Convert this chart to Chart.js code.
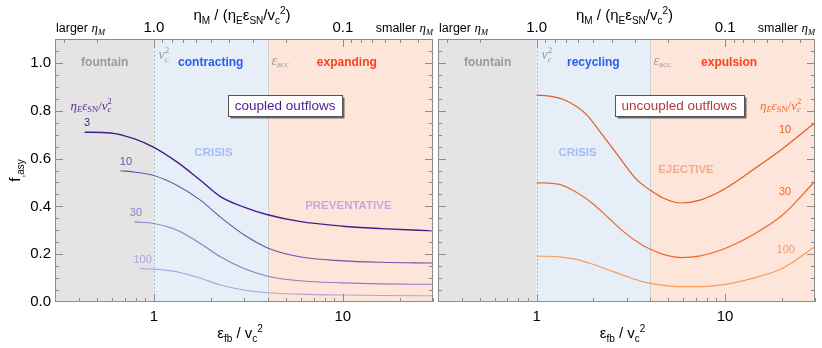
<!DOCTYPE html>
<html>
<head>
<meta charset="utf-8">
<script src="https://cdn.jsdelivr.net/npm/chart.js@4.4.0/dist/chart.umd.min.js"></script>
<style>
  html, body { margin: 0; padding: 0; background: #fff; }
  #wrap { position: relative; width: 822px; height: 348px; }
  .pane { position: absolute; top: 0; height: 348px; }
</style>
</head>
<body>
<div id="wrap">
  <div class="pane" style="left:0;width:436px"><canvas id="coupled" width="436" height="348"></canvas></div>
  <div class="pane" style="left:436px;width:386px"><canvas id="uncoupled" width="386" height="348"></canvas></div>
</div>
<script>
/* ---------- datos ---------- */
const xRange = [0.3, 30];
const yRange = [0, 1.1];
const zoneEdges = [0.3, 1, 4, 30];            // fountain | crisis | ε_acc ...
const xTickLabels = [1, 10];
const xMinorTicks = [0.3, 0.4, 0.5, 0.6, 0.7, 0.8, 0.9, 2, 3, 4, 5, 6, 7, 8, 9, 20, 30];
const yTickLabels = [0, 0.2, 0.4, 0.6, 0.8, 1.0];
const yMinorTicks = [0.05, 0.1, 0.15, 0.25, 0.3, 0.35, 0.45, 0.5, 0.55, 0.65, 0.7, 0.75, 0.85, 0.9, 0.95, 1.05];
// eje superior: η_M / (η_E ε_SN / v_c²) = 1 / x
const topTickLabels = [1.0, 0.1];
const topMinorTicks = [3, 2, 0.9, 0.8, 0.7, 0.6, 0.5, 0.4, 0.3, 0.2, 0.09, 0.08, 0.07, 0.06, 0.05, 0.04];

// coupled outflows (panel izquierdo)
const coupledNames = ['3', '10', '30', '100'];
const coupled3X   = [0.43, 0.59, 0.79, 1.0, 1.33, 1.77, 2.25, 3.0, 4.0, 5.9, 10, 16, 25, 30];
const coupled3Y   = [0.71, 0.707, 0.682, 0.647, 0.585, 0.508, 0.441, 0.397, 0.365, 0.337, 0.317, 0.307, 0.30, 0.298];
const coupled10X  = [0.665, 0.8, 1.0, 1.33, 1.77, 2.25, 3.0, 4.0, 5.9, 10, 16, 30];
const coupled10Y  = [0.549, 0.543, 0.529, 0.4875, 0.425, 0.355, 0.281, 0.226, 0.189, 0.172, 0.166, 0.163];
const coupled30X  = [0.79, 1.0, 1.33, 1.77, 2.25, 3.0, 4.0, 5.9, 10, 16, 30];
const coupled30Y  = [0.335, 0.328, 0.30, 0.244, 0.189, 0.14, 0.108, 0.089, 0.08, 0.076, 0.074];
const coupled100X = [0.84, 1.0, 1.33, 1.77, 2.25, 3.0, 4.0, 5.9, 10, 16, 30];
const coupled100Y = [0.14, 0.1375, 0.126, 0.099, 0.071, 0.05, 0.039, 0.033, 0.029, 0.027, 0.026];

// uncoupled outflows (panel derecho)
const uncoupledNames = ['10', '30', '100'];
const uncoupled10X  = [1.0, 1.2, 1.44, 1.83, 2.23, 2.75, 3.37, 4.0, 4.66, 5.83, 7.28, 10, 13.9, 20.1, 30];
const uncoupled10Y  = [0.865, 0.86, 0.842, 0.786, 0.70, 0.605, 0.515, 0.468, 0.436, 0.414, 0.425, 0.474, 0.55, 0.64, 0.75];
const uncoupled30X  = [1.0, 1.32, 1.62, 1.99, 2.43, 2.98, 3.65, 4.0, 4.66, 5.83, 7.28, 10, 13.9, 20.1, 30];
const uncoupled30Y  = [0.499, 0.492, 0.46, 0.411, 0.349, 0.286, 0.2375, 0.222, 0.20, 0.186, 0.192, 0.224, 0.279, 0.3625, 0.505];
const uncoupled100X = [1.0, 1.32, 1.62, 1.99, 2.43, 2.98, 3.65, 4.0, 4.66, 5.83, 7.28, 10, 13.9, 20.1, 30];
const uncoupled100Y = [0.192, 0.189, 0.178, 0.158, 0.133, 0.108, 0.085, 0.078, 0.07, 0.064, 0.064, 0.074, 0.099, 0.14, 0.232];

/* ---------- texto enriquecido (sub/superíndices) ---------- */
const SANS = '"Liberation Sans", Arial, Helvetica, sans-serif';
const SERIF = '"Liberation Serif", "DejaVu Serif", serif';

function fontOf(s) {
  return (s.i ? 'italic ' : '') + (s.b ? 'bold ' : '') + s.size + 'px ' + (s.serif ? SERIF : SANS);
}
// t: texto, size, opciones {i, b, serif, dy, stack}
function S(t, size, o = {}) { return Object.assign({ t, size }, o); }

function rich(ctx, segs, x, y, align, color) {
  let total = 0, lastW = 0;
  segs.forEach(s => {
    ctx.font = fontOf(s);
    s.w = ctx.measureText(s.t).width;
    if (s.stack) { total += Math.max(0, s.w - lastW); } else { total += s.w; }
    lastW = s.w;
  });
  let cx = align === 'center' ? x - total / 2 : align === 'right' ? x - total : x;
  let prevX = cx;
  ctx.fillStyle = color;
  ctx.textAlign = 'left';
  ctx.textBaseline = 'alphabetic';
  segs.forEach(s => {
    ctx.font = fontOf(s);
    let sx = s.stack ? prevX : cx;
    ctx.fillText(s.t, sx, y + (s.dy || 0));
    if (s.stack) { cx = Math.max(cx, sx + s.w); } else { cx = sx + s.w; }
    prevX = sx;
  });
}

function plainText(ctx, t, x, y, font, color, align = 'center') {
  ctx.font = font;
  ctx.fillStyle = color;
  ctx.textAlign = align;
  ctx.textBaseline = 'middle';
  ctx.fillText(t, x, y);
}

function box(ctx, t, cx, cy, w, h, color) {
  const x = Math.round(cx - w / 2) + 0.5, y = Math.round(cy - h / 2) + 0.5;
  ctx.fillStyle = 'rgba(60,60,60,0.75)';
  ctx.fillRect(x + 2, y + 2, w, h);
  ctx.fillStyle = '#fff';
  ctx.fillRect(x, y, w, h);
  ctx.strokeStyle = '#555';
  ctx.lineWidth = 1;
  ctx.strokeRect(x, y, w, h);
  plainText(ctx, t, cx, cy + 0.5, '13.5px ' + SANS, color);
}

function pts(xs, ys) { return xs.map((x, i) => ({ x, y: ys[i] })); }

/* ---------- plugin de decoración ---------- */
function decorPlugin(panel) {
  return {
    id: 'decor',
    beforeDatasetsDraw(chart) {
      const { ctx, chartArea: a, scales: { x, y } } = chart;
      const fills = ['#e4e4e4', '#e6eef8', '#fde5da'];
      ctx.save();
      for (let i = 0; i < 3; i++) {
        const x0 = x.getPixelForValue(zoneEdges[i]);
        const x1 = x.getPixelForValue(zoneEdges[i + 1]);
        ctx.fillStyle = fills[i];
        ctx.fillRect(x0, a.top, x1 - x0, a.bottom - a.top);
      }
      // v_c² : línea punteada
      const p1 = Math.round(x.getPixelForValue(zoneEdges[1])) + 0.5;
      ctx.strokeStyle = '#a8a8a8';
      ctx.lineWidth = 1;
      ctx.setLineDash([1.5, 2.5]);
      ctx.beginPath(); ctx.moveTo(p1, a.top); ctx.lineTo(p1, a.bottom); ctx.stroke();
      ctx.setLineDash([]);
      // ε_acc : línea continua
      const p2 = Math.round(x.getPixelForValue(zoneEdges[2])) + 0.5;
      ctx.strokeStyle = '#cfcfcf';
      ctx.beginPath(); ctx.moveTo(p2, a.top); ctx.lineTo(p2, a.bottom); ctx.stroke();

      // etiquetas de regiones
      const yl = y.getPixelForValue(1.0);
      plainText(ctx, 'fountain', x.getPixelForValue(0.55), yl, 'bold 12px ' + SANS, '#9a9a9a');
      plainText(ctx, panel.midLabel, x.getPixelForValue(2.0), yl, 'bold 12px ' + SANS, '#2a5cf0');
      plainText(ctx, panel.rightLabel, x.getPixelForValue(10.5), yl, 'bold 12px ' + SANS, '#ff401c');
      rich(ctx, [S('v', 14, { i: true, serif: true }), S('c', 9, { i: true, serif: true, dy: 3 }),
                 S('2', 9, { serif: true, dy: -6, stack: true })],
           p1 + 4, y.getPixelForValue(1.015), 'left', '#9a9a9a');
      rich(ctx, [S('ε', 14, { i: true, serif: true }), S('acc', 9, { serif: true, dy: 2 })],
           p2 + 3, y.getPixelForValue(1.0) + 2, 'left', '#9a9a9a');
      ctx.restore();
    },
    afterDatasetsDraw(chart) {
      const { ctx, chartArea: a, scales: { x, y } } = chart;
      ctx.save();
      // marco
      ctx.strokeStyle = '#8c8c8c';
      ctx.lineWidth = 1;
      ctx.strokeRect(Math.round(a.left) + 0.5, Math.round(a.top) + 0.5,
                     Math.round(a.right - a.left) - 1, Math.round(a.bottom - a.top) - 1);
      const vline = (px, y0, y1) => { px = Math.round(px) + 0.5; ctx.beginPath(); ctx.moveTo(px, y0); ctx.lineTo(px, y1); ctx.stroke(); };
      const hline = (py, x0, x1) => { py = Math.round(py) + 0.5; ctx.beginPath(); ctx.moveTo(x0, py); ctx.lineTo(x1, py); ctx.stroke(); };
      // ticks inferiores
      xTickLabels.forEach(v => vline(x.getPixelForValue(v), a.bottom, a.bottom - 8));
      xMinorTicks.forEach(v => vline(x.getPixelForValue(v), a.bottom, a.bottom - 4));
      // ticks superiores (recíprocos)
      topTickLabels.forEach(v => vline(x.getPixelForValue(1 / v), a.top, a.top + 8));
      topMinorTicks.forEach(v => {
        const px = x.getPixelForValue(1 / v);
        if (px > a.left + 1 && px < a.right - 1) vline(px, a.top, a.top + 4);
      });
      // ticks y, ambos lados
      yTickLabels.forEach(v => {
        const py = y.getPixelForValue(v);
        if (py < a.bottom - 1) { hline(py, a.left, a.left + 8); hline(py, a.right, a.right - 8); }
      });
      yMinorTicks.forEach(v => {
        const py = y.getPixelForValue(v);
        hline(py, a.left, a.left + 4); hline(py, a.right, a.right - 4);
      });

      // textos de anotación
      const P = (vx, vy) => [x.getPixelForValue(vx), y.getPixelForValue(vy)];
      let p;
      p = P(panel.crisisAt[0], panel.crisisAt[1]);
      plainText(ctx, 'CRISIS', p[0], p[1], 'bold 11.5px ' + SANS, '#a9bbf3');
      p = P(panel.tagAt[0], panel.tagAt[1]);
      plainText(ctx, panel.tag, p[0], p[1], 'bold 11.5px ' + SANS, panel.tagColor);

      p = P(panel.boxAt[0], panel.boxAt[1]);
      box(ctx, panel.boxText, p[0], p[1], panel.boxW, 21, panel.boxColor);

      // cabecera de curvas
      p = P(panel.headAt[0], panel.headAt[1]);
      rich(ctx, [S('η', 13, { i: true, serif: true }), S('E', 8.5, { i: true, serif: true, dy: 2.5 }),
                 S('ε', 13, { i: true, serif: true }), S('SN', 8.5, { serif: true, dy: 2.5 }),
                 S('/', 13, { serif: true }), S('v', 13, { i: true, serif: true }),
                 S('c', 8.5, { i: true, serif: true, dy: 2.5 }), S('2', 8.5, { serif: true, dy: -6, stack: true })],
           p[0], p[1] + 4, 'center', panel.headColor);
      panel.curveLabels.forEach((lab, i) => {
        const q = P(lab[0], lab[1]);
        plainText(ctx, panel.names[i], q[0], q[1], '11px ' + SANS, panel.colors[i]);
      });

      // eje superior
      topTickLabels.forEach(v => {
        plainText(ctx, v.toFixed(1), x.getPixelForValue(1 / v), 28, '15px ' + SANS, '#000');
      });
      rich(ctx, [S('larger ', 12.5), S('η', 13, { i: true, serif: true }), S('M', 8.5, { i: true, serif: true, dy: 3 })],
           a.left + 1, 32, 'left', '#000');
      rich(ctx, [S('smaller ', 12.5), S('η', 13, { i: true, serif: true }), S('M', 8.5, { i: true, serif: true, dy: 3 })],
           a.right, 32, 'right', '#000');
      const cxp = (a.left + a.right) / 2 - 2;
      rich(ctx, [S('η', 15), S('M', 10, { dy: 4 }), S(' / (η', 15), S('E', 10, { dy: 4 }),
                 S('ε', 15), S('SN', 10, { dy: 4 }), S('/v', 15), S('c', 10, { dy: 4 }),
                 S('2', 10, { dy: -6 }), S(')', 15)],
           cxp, 20, 'center', '#000');
      // título eje x
      rich(ctx, [S('ε', 15), S('fb', 10, { dy: 4 }), S(' / v', 15), S('c', 10, { dy: 4 }),
                 S('2', 10, { dy: -6 })],
           cxp - 2, 338, 'center', '#000');
      // título eje y
      if (panel.yTitle) {
        ctx.translate(15, (a.top + a.bottom) / 2);
        ctx.rotate(-Math.PI / 2);
        rich(ctx, [S('f', 15), S(',asy', 10, { dy: 4 })], 0, 5, 'center', '#000');
      }
      ctx.restore();
    }
  };
}

/* ---------- construcción de los paneles ---------- */
function makePanel(canvasId, panel) {
  const datasets = panel.series.map((s, i) => ({
    data: pts(s[0], s[1]),
    borderColor: panel.colors[i],
    borderWidth: panel.widths[i],
    pointRadius: 0,
    fill: false,
    cubicInterpolationMode: 'monotone'
  }));
  return new Chart(document.getElementById(canvasId), {
    type: 'line',
    data: { datasets },
    options: {
      responsive: false,
      animation: false,
      devicePixelRatio: 1,
      layout: { padding: panel.padding },
      plugins: { legend: { display: false }, tooltip: { enabled: false } },
      scales: {
        x: {
          type: 'logarithmic', min: xRange[0], max: xRange[1],
          grid: { display: false, drawTicks: false }, border: { display: false },
          afterBuildTicks: s => { s.ticks = xTickLabels.map(v => ({ value: v })); },
          ticks: { autoSkip: false, maxRotation: 0, padding: 6, color: '#000',
                   font: { family: SANS, size: 15 }, callback: v => String(v) },
          afterFit: s => { s.height = 46; }
        },
        y: {
          display: panel.showY, min: yRange[0], max: yRange[1],
          grid: { display: false, drawTicks: false }, border: { display: false },
          afterBuildTicks: s => { s.ticks = yTickLabels.map(v => ({ value: v })); },
          ticks: { padding: 4, color: '#000', font: { family: SANS, size: 15 },
                   callback: v => Number(v).toFixed(1) },
          afterFit: s => { s.width = panel.showY ? 55 : 0; }
        }
      }
    },
    plugins: [decorPlugin(panel)]
  });
}

makePanel('coupled', {
  series: [[coupled3X, coupled3Y], [coupled10X, coupled10Y], [coupled30X, coupled30Y], [coupled100X, coupled100Y]],
  names: coupledNames,
  colors: ['#4a1a8c', '#6b55ab', '#8c7dc4', '#aba5dc'],
  widths: [1.4, 1.1, 1.1, 1.1],
  curveLabels: [[0.444, 0.747], [0.712, 0.585], [0.804, 0.374], [0.873, 0.175]],
  headAt: [0.466, 0.82], headColor: '#5a2a9a',
  midLabel: 'contracting', rightLabel: 'expanding',
  crisisAt: [2.07, 0.622],
  tag: 'PREVENTATIVE', tagAt: [10.7, 0.404], tagColor: '#c6a9da',
  boxText: 'coupled outflows', boxAt: [4.95, 0.82], boxW: 114, boxColor: '#4b1b8e',
  padding: { top: 39, right: 3, left: 0, bottom: 0 },
  showY: true, yTitle: true
});

makePanel('uncoupled', {
  series: [[uncoupled10X, uncoupled10Y], [uncoupled30X, uncoupled30Y], [uncoupled100X, uncoupled100Y]],
  names: uncoupledNames,
  colors: ['#e65a20', '#eb6a2c', '#f79c5c'],
  widths: [1.2, 1.2, 1.2],
  curveLabels: [[20.8, 0.72], [20.8, 0.46], [21, 0.217]],
  headAt: [19.7, 0.82], headColor: '#eb6a2c',
  midLabel: 'recycling', rightLabel: 'expulsion',
  crisisAt: [1.65, 0.624],
  tag: 'EJECTIVE', tagAt: [6.2, 0.554], tagColor: '#f6ab88',
  boxText: 'uncoupled outflows', boxAt: [5.71, 0.82], boxW: 129, boxColor: '#b03a3a',
  padding: { top: 39, right: 7, left: 2, bottom: 0 },
  showY: false, yTitle: false
});
</script>
</body>
</html>
